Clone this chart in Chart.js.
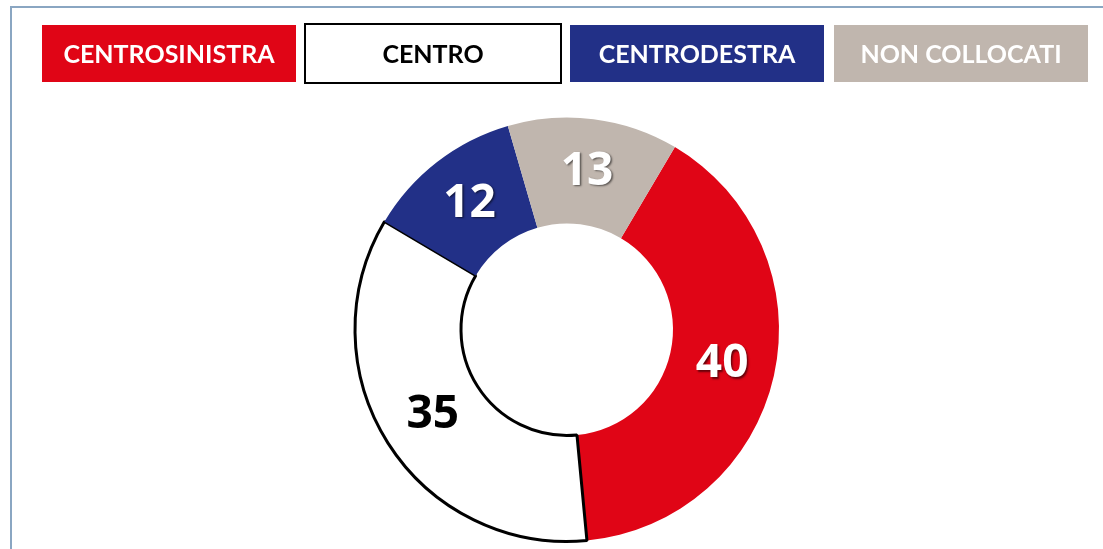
<!DOCTYPE html>
<html>
<head>
<meta charset="utf-8">
<script src="https://cdn.jsdelivr.net/npm/chart.js@4.4.1/dist/chart.umd.min.js"></script>
<style>
  body { margin: 0; background: #fff; overflow: hidden; }
  #wrap { position: relative; width: 1103px; height: 549px; }
  #frame { position: absolute; left: 10px; top: 6px; width: 1200px; height: 600px; border: 2px solid #8aa6c2; }
  canvas { position: absolute; left: 0; top: 0; }
</style>
</head>
<body>
<div id="wrap">
  <div id="frame"></div>
  <canvas id="donut" width="1103" height="549"></canvas>
</div>
<script>
const categories = ['CENTROSINISTRA', 'CENTRO', 'CENTRODESTRA', 'NON COLLOCATI'];
const seats = [40, 35, 12, 13];
const fillColors = ['#e00516', '#ffffff', '#223087', '#c0b6ae'];
const labelColors = ['#ffffff', '#000000', '#ffffff', '#ffffff'];

// legend boxes across the top, text inside coloured boxes
const boxLegend = {
    id: 'boxLegend',
    afterDraw(chart) {
        const c = chart.ctx;
        c.save();
        categories.forEach((name, i) => {
            const x = 42 + i * 264, y = 25, w = 254, h = 57;
            c.fillStyle = fillColors[i];
            c.fillRect(x, y, w, h);
            if (i === 1) {
                c.strokeStyle = '#000';
                c.lineWidth = 2;
                c.strokeRect(x - 1, y - 1, w + 2, h + 2);
            }
            c.fillStyle = i === 1 ? '#000' : '#fff';
            c.font = 'bold 25px Lato';
            c.textAlign = 'center';
            c.textBaseline = 'middle';
            c.fillText(name, x + w / 2, y + h / 2 + 1);
        });
        c.restore();
    }
};

// numbers in the middle of each ring segment
const sliceValues = {
    id: 'sliceValues',
    afterDatasetsDraw(chart) {
        const c = chart.ctx;
        const meta = chart.getDatasetMeta(0);
        c.save();
        c.font = 'bold 46px "Open Sans"';
        c.textAlign = 'center';
        c.textBaseline = 'middle';
        meta.data.forEach((arc, i) => {
            const p = arc.tooltipPosition();
            if (labelColors[i] === '#ffffff') {
                c.shadowColor = 'rgba(0,0,0,0.55)';
                c.shadowOffsetX = 1.5;
                c.shadowOffsetY = 1.5;
                c.shadowBlur = 2;
            } else {
                c.shadowColor = 'transparent';
            }
            c.fillStyle = labelColors[i];
            c.fillText(String(seats[i]), p.x, p.y);
        });
        c.restore();
    }
};

const ctx = document.getElementById('donut').getContext('2d');
const donut = new Chart(ctx, {
    type: 'doughnut',
    data: {
        labels: categories,
        datasets: [{
            data: seats,
            backgroundColor: fillColors,
            borderColor: ['#e00516', '#000000', '#223087', '#c0b6ae'],
            borderWidth: [0, 3, 0, 0],
            hoverOffset: 0
        }]
    },
    options: {
        responsive: false,
        animation: false,
        rotation: 30.6,
        cutout: '50%',
        layout: { padding: { top: 116, bottom: 6, left: 266, right: 235 } },
        plugins: {
            legend: { display: false },
            tooltip: { enabled: false }
        }
    },
    plugins: [boxLegend, sliceValues]
});
</script>
</body>
</html>
